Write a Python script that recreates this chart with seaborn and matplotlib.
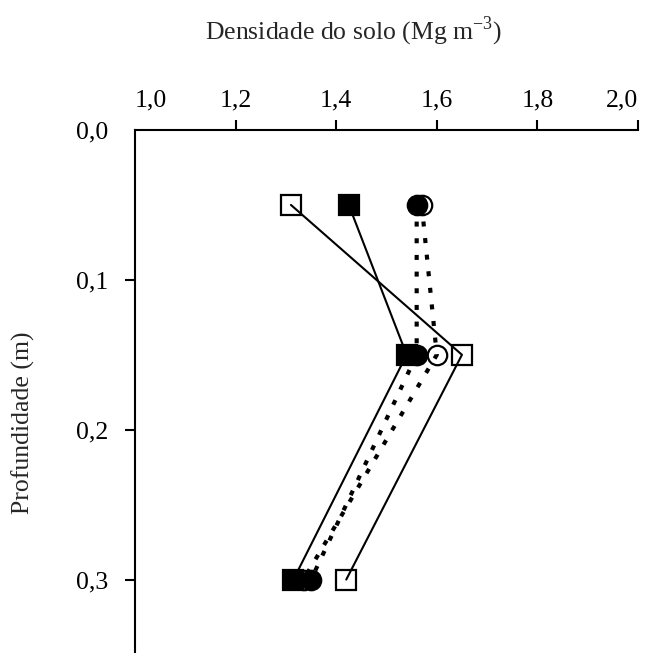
import matplotlib
matplotlib.use('Agg')
import matplotlib.pyplot as plt
import seaborn as sns
import pandas as pd

# profundidade (m) e densidade do solo (Mg m-3)
depth = [0.05, 0.15, 0.30]
open_square = [1.31, 1.65, 1.42]
filled_square = [1.425, 1.54, 1.315]
open_circle = [1.57, 1.60, 1.335]
filled_circle = [1.56, 1.56, 1.35]

x_ticks = [1.0, 1.2, 1.4, 1.6, 1.8, 2.0]
x_tick_labels = ['1,0', '1,2', '1,4', '1,6', '1,8', '2,0']
y_ticks = [0.0, 0.1, 0.2, 0.3]
y_tick_labels = ['0,0', '0,1', '0,2', '0,3']

sns.set_style('ticks')
plt.rcParams['font.family'] = ['Liberation Serif', 'DejaVu Serif']
plt.rcParams['mathtext.fontset'] = 'custom'
plt.rcParams['mathtext.rm'] = 'Liberation Serif'

fig = plt.figure(figsize=(6.48, 6.53), dpi=100)
ax = fig.add_axes([135 / 648, 0.0, (638 - 135) / 648, 1 - 130 / 653])

dotted = (0, (1.2, 2.8))
series = [
    (open_circle, 'o', 'none', dotted, 3.0, 14),
    (filled_circle, 'o', 'black', dotted, 3.0, 14),
    (open_square, 's', 'none', '-', 1.5, 15),
    (filled_square, 's', 'black', '-', 1.5, 15),
]
for vals, mk, fc, ls, lw, ms in series:
    df = pd.DataFrame({'dens': vals, 'prof': depth})
    sns.lineplot(data=df, x='dens', y='prof', orient='y', ax=ax,
                 color='black', linestyle=ls, linewidth=lw,
                 marker=mk, markersize=ms, markerfacecolor=fc,
                 markeredgecolor='black', markeredgewidth=1.6)

ax.set_xlim(1.0, 2.0)
ax.set_ylim(0.349, 0.0)
ax.xaxis.tick_top()
ax.set_xticks(x_ticks)
ax.set_xticklabels(x_tick_labels)
ax.set_yticks(y_ticks)
ax.set_yticklabels(y_tick_labels)
ax.tick_params(axis='both', direction='out', length=7.5, width=1.5,
               labelsize=18.5, colors='black')
ax.tick_params(axis='x', pad=6)
ax.tick_params(axis='y', pad=12)
ax.xaxis.get_major_ticks()[0].tick2line.set_visible(False)
ax.yaxis.get_major_ticks()[0].tick1line.set_visible(False)
xlabels = ax.get_xticklabels()
xlabels[0].set_ha('left')
xlabels[-1].set_ha('right')

for side in ['right', 'bottom']:
    ax.spines[side].set_visible(False)
for side in ['top', 'left']:
    ax.spines[side].set_linewidth(1.5)
    ax.spines[side].set_color('black')

ax.set_xlabel('')
ax.set_ylabel('')
fig.text(354 / 648, 1 - 31 / 653, 'Densidade do solo (Mg m$^{\\mathregular{-3}}$)',
         ha='center', va='center', fontsize=18.5)
fig.text(23 / 648, 1 - 423 / 653, 'Profundidade (m)', rotation=90,
         ha='center', va='center', fontsize=18.5)

fig.savefig('out.png', dpi=100)
